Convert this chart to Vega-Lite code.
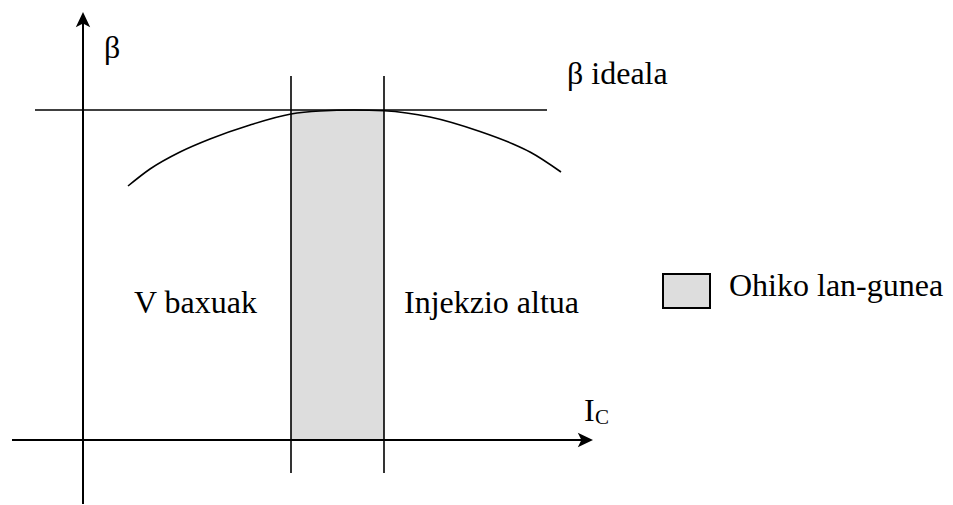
{
  "$schema": "https://vega.github.io/schema/vega-lite/v6.json",
  "width": 953,
  "height": 505,
  "autosize": {"type": "fit", "contains": "padding"},
  "padding": 0,
  "background": "white",
  "config": {"view": {"stroke": null}, "text": {"font": "'Liberation Serif', 'Times New Roman', serif"}},
  "datasets": {
    "band": [{"x": 291, "x2": 384, "y": 110, "y2": 440}],
    "axes": [
      {"x": 83, "x2": 83, "y": 22, "y2": 504},
      {"x": 12, "x2": 586, "y": 440, "y2": 440}
    ],
    "guides": [
      {"x": 35, "x2": 547, "y": 110, "y2": 110},
      {"x": 291, "x2": 291, "y": 76, "y2": 473},
      {"x": 384, "x2": 384, "y": 76, "y2": 473}
    ],
    "curve": [
      {"x": 128, "y": 186},
      {"x": 150, "y": 169},
      {"x": 180, "y": 152},
      {"x": 210, "y": 139},
      {"x": 250, "y": 125},
      {"x": 291, "y": 114},
      {"x": 320, "y": 111},
      {"x": 354, "y": 110},
      {"x": 384, "y": 110.8},
      {"x": 430, "y": 117},
      {"x": 480, "y": 131.5},
      {"x": 513, "y": 144},
      {"x": 530, "y": 152},
      {"x": 561, "y": 172}
    ],
    "arrowUp": [{"x": 83, "y": 20}],
    "arrowRight": [{"x": 585, "y": 440}],
    "labels": [
      {"x": 104, "y": 58, "t": "β"},
      {"x": 567, "y": 84, "t": "β ideala"},
      {"x": 134, "y": 313, "t": "V baxuak"},
      {"x": 404, "y": 313, "t": "Injekzio altua"},
      {"x": 729, "y": 296, "t": "Ohiko lan-gunea"},
      {"x": 584, "y": 421, "t": "I"}
    ],
    "subs": [{"x": 595, "y": 424, "t": "C"}],
    "legendBox": [{"x": 663, "x2": 710, "y": 274, "y2": 308}]
  },
  "encoding": {
    "x": {"field": "x", "type": "quantitative", "scale": {"domain": [0, 953], "nice": false, "zero": false}, "axis": null},
    "y": {"field": "y", "type": "quantitative", "scale": {"domain": [0, 505], "reverse": true, "nice": false, "zero": false}, "axis": null}
  },
  "layer": [
    {
      "data": {"name": "band"},
      "mark": {"type": "rect", "fill": "#dddddd", "stroke": null},
      "encoding": {"x2": {"field": "x2"}, "y2": {"field": "y2"}}
    },
    {
      "data": {"name": "axes"},
      "mark": {"type": "rule", "color": "black", "strokeWidth": 2},
      "encoding": {"x2": {"field": "x2"}, "y2": {"field": "y2"}}
    },
    {
      "data": {"name": "guides"},
      "mark": {"type": "rule", "color": "black", "strokeWidth": 1.6},
      "encoding": {"x2": {"field": "x2"}, "y2": {"field": "y2"}}
    },
    {
      "data": {"name": "curve"},
      "mark": {"type": "line", "color": "black", "strokeWidth": 1.6, "interpolate": "monotone"},
      "encoding": {"order": {"field": "x", "type": "quantitative"}}
    },
    {
      "data": {"name": "arrowUp"},
      "mark": {"type": "point", "shape": "M0,-1L0.9,0.9L0,0.45L-0.9,0.9Z", "size": 256, "filled": true, "color": "black", "opacity": 1, "strokeWidth": 0}
    },
    {
      "data": {"name": "arrowRight"},
      "mark": {"type": "point", "shape": "M0,-1L0.9,0.9L0,0.45L-0.9,0.9Z", "size": 256, "angle": 90, "filled": true, "color": "black", "opacity": 1, "strokeWidth": 0}
    },
    {
      "data": {"name": "legendBox"},
      "mark": {"type": "rect", "fill": "#dddddd", "stroke": "black", "strokeWidth": 2},
      "encoding": {"x2": {"field": "x2"}, "y2": {"field": "y2"}}
    },
    {
      "data": {"name": "labels"},
      "mark": {"type": "text", "font": "'Liberation Serif', 'Times New Roman', serif", "fontSize": 32, "align": "left", "baseline": "alphabetic", "color": "black"},
      "encoding": {"text": {"field": "t"}}
    },
    {
      "data": {"name": "subs"},
      "mark": {"type": "text", "font": "'Liberation Serif', 'Times New Roman', serif", "fontSize": 21, "align": "left", "baseline": "alphabetic", "color": "black"},
      "encoding": {"text": {"field": "t"}}
    }
  ]
}
